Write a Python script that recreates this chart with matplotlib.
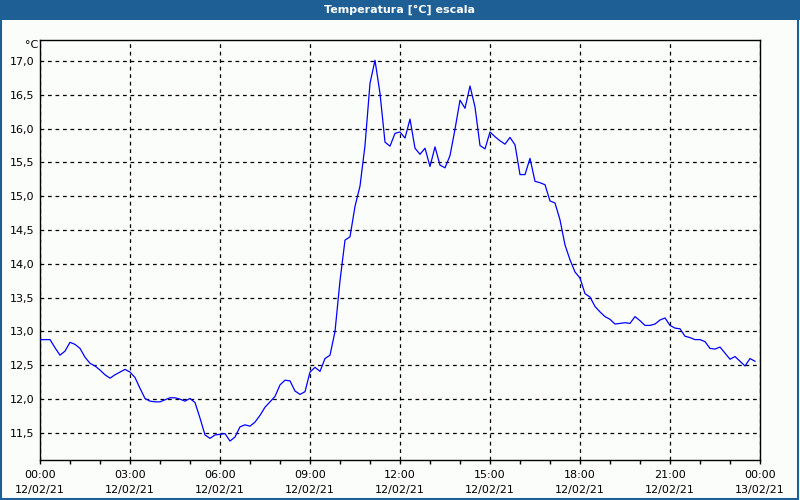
import numpy as np
import matplotlib
matplotlib.use("Agg")
import matplotlib.pyplot as plt
from matplotlib.patches import Rectangle
from matplotlib.ticker import MultipleLocator

# temperature every 10 minutes, 12/02/21 00:00 -> 23:50
temps = [
    12.88, 12.88, 12.88, 12.76, 12.65, 12.71, 12.84, 12.81, 12.75, 12.62, 12.53, 12.49,
    12.43, 12.36, 12.31, 12.36, 12.40, 12.44, 12.40, 12.32, 12.16, 12.01, 11.97, 11.96,
    11.96, 11.99, 12.02, 12.02, 12.00, 11.97, 12.01, 11.95, 11.72, 11.47, 11.42, 11.47,
    11.48, 11.49, 11.38, 11.44, 11.59, 11.62, 11.60, 11.66, 11.76, 11.88, 11.96, 12.04,
    12.21, 12.28, 12.27, 12.12, 12.07, 12.11, 12.40, 12.47, 12.41, 12.60, 12.65, 13.00,
    13.75, 14.35, 14.40, 14.85, 15.15, 15.75, 16.67, 17.01, 16.52, 15.80, 15.74, 15.93,
    15.95, 15.86, 16.14, 15.71, 15.62, 15.71, 15.44, 15.73, 15.46, 15.42, 15.60, 15.99,
    16.42, 16.30, 16.63, 16.32, 15.75, 15.70, 15.95, 15.88, 15.82, 15.77, 15.87, 15.76,
    15.32, 15.32, 15.56, 15.22, 15.20, 15.17, 14.93, 14.90, 14.65, 14.28, 14.06, 13.88,
    13.79, 13.56, 13.51, 13.37, 13.29, 13.22, 13.18, 13.11, 13.12, 13.13, 13.12, 13.22,
    13.16, 13.09, 13.09, 13.11, 13.17, 13.20, 13.09, 13.05, 13.04, 12.93, 12.91, 12.88,
    12.88, 12.85, 12.75, 12.74, 12.77, 12.68, 12.59, 12.63, 12.56, 12.49, 12.60, 12.56,
]
hours = np.arange(len(temps)) / 6.0

xtick_hours = [0, 3, 6, 9, 12, 15, 18, 21, 24]
xtick_labels = ["00:00\n12/02/21", "03:00\n12/02/21", "06:00\n12/02/21",
                "09:00\n12/02/21", "12:00\n12/02/21", "15:00\n12/02/21",
                "18:00\n12/02/21", "21:00\n12/02/21", "00:00\n13/02/21"]
ytick_vals = [11.5, 12.0, 12.5, 13.0, 13.5, 14.0, 14.5, 15.0, 15.5, 16.0, 16.5, 17.0]

title = "Temperatura [°C] escala"
bar_col = "#1e6096"
bg = "#fbfdfb"

plt.rcParams["font.family"] = ["DejaVu Sans"]
fig = plt.figure(figsize=(8, 5), dpi=100, facecolor=bg)

# title bar + window frame
fig.patches.append(Rectangle((0, 0.96), 1, 0.04, transform=fig.transFigure,
                             facecolor=bar_col, edgecolor="none", zorder=0))
fig.patches.append(Rectangle((0.001, 0.002), 0.997, 0.996, transform=fig.transFigure,
                             facecolor="none", edgecolor=bar_col, lw=1.5, zorder=5))
fig.text(0.5, 0.98, title, color="white", fontsize=8, fontweight="bold",
         ha="center", va="center")

ax = fig.add_axes([0.05, 0.08, 0.90, 0.84])
ax.set_facecolor(bg)
ax.plot(hours, temps, color="#0000ff", lw=0.9, zorder=3)

ax.set_xlim(0, 24)
ax.set_ylim(11.1, 17.31)
ax.set_xticks(xtick_hours)
ax.set_xticklabels(xtick_labels, fontsize=8, linespacing=1.6)
ax.xaxis.set_minor_locator(MultipleLocator(1))
ax.set_yticks(ytick_vals)
ax.set_yticklabels([f"{v:.1f}".replace(".", ",") for v in ytick_vals], fontsize=8)

ax.tick_params(axis="x", which="both", direction="out", length=3, width=1, pad=4)
ax.tick_params(axis="y", length=0, pad=4)
ax.grid(True, which="major", color="black", linestyle=(0, (3, 3)), lw=0.9)
for s in ax.spines.values():
    s.set_color("black")
    s.set_linewidth(1)

ax.text(-0.003, 1.0, "°C", transform=ax.transAxes, fontsize=8,
        ha="right", va="top")

fig.savefig("out.png", dpi=100, facecolor=bg)
